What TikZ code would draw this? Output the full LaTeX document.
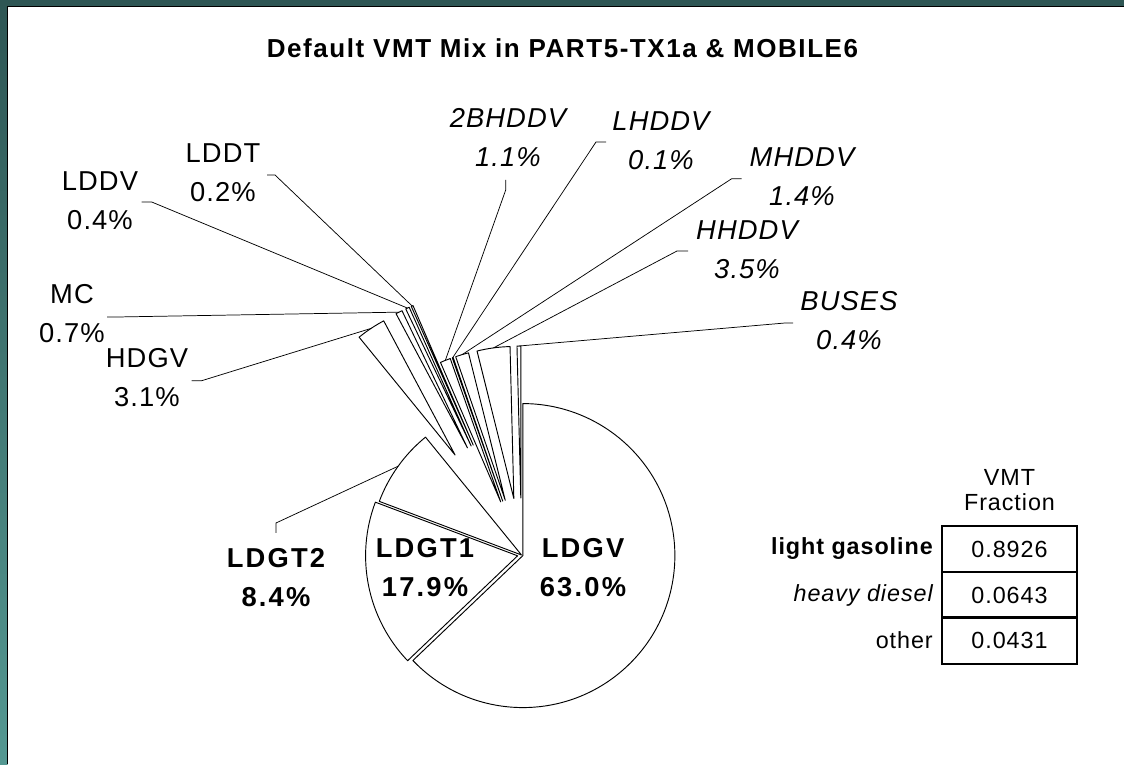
\documentclass[tikz,border=0pt]{standalone}
\usepackage{fontspec}
\setmainfont{Liberation Sans}
\newfontfamily\lblfont[LetterSpace=4]{Liberation Sans}
\newfontfamily\boldlblfont[LetterSpace=8]{Liberation Sans}
\newfontfamily\titlefont[LetterSpace=6]{Liberation Sans}
\usetikzlibrary{calc,positioning}
\definecolor{frametop}{RGB}{46,86,84}
\definecolor{framebot}{RGB}{84,152,146}

\begin{document}
\begin{tikzpicture}[x=0.75pt,y=0.75pt,
    slice/.style={draw,line width=0.7pt,fill=white,line join=round},
    leader/.style={draw,line width=0.55pt},
    lbl/.style={align=center,inner sep=0pt,font=\lblfont\fontsize{20.5}{29.25}\selectfont},
    cell/.style={draw,line width=1.5pt,minimum width=101.25pt,minimum height=34.5pt,
      inner sep=0pt,font=\lblfont\fontsize{17.5}{21}\selectfont},
    rowlbl/.style={inner sep=0pt,font=\lblfont\fontsize{17.5}{21}\selectfont},
  ]
  \useasboundingbox (0,0) rectangle (1124,764);
  % frame
  \shade[top color=frametop,bottom color=framebot] (0,0) rectangle (7.5,764);
  \fill[frametop] (0,757.5) rectangle (1124,764);
  \fill[white] (7.5,0) rectangle (1124,757.5);
  \draw[line width=1pt] (7.8,0) -- (7.8,757.2) -- (1124,757.2);

  \node[font=\titlefont\bfseries\fontsize{19.5}{23}\selectfont] (title) at (562.5,716)
    {Default VMT Mix in PART5-TX1a \& MOBILE6};

  % pie
  \coordinate (C) at (521.5,209);
  \draw[slice] ($(C)+(-23.17:1.5)$) -- ++(-136.347:152) arc[start angle=-136.347, end angle=90, radius=152] -- cycle;
  \draw[slice] ($(C)+(191.5:4)$) -- ++(159.342:152) arc[start angle=159.342, end angle=223.653, radius=152] -- cycle;
  \draw[slice] (C) -- ++(129.162:152) arc[start angle=129.162, end angle=159.342, radius=152] -- cycle;
  \draw[slice] ($(C)+(123.59:120)$) -- ++(118.024:152) arc[start angle=118.024, end angle=129.162, radius=152] -- cycle;
  \draw[slice] ($(C)+(116.77:120)$) -- ++(115.509:152) arc[start angle=115.509, end angle=118.024, radius=152] -- cycle;
  \draw[slice] ($(C)+(114.79:120)$) -- ++(114.072:152) arc[start angle=114.072, end angle=115.509, radius=152] -- cycle;
  \draw[slice] ($(C)+(113.71:120)$) -- ++(113.353:152) arc[start angle=113.353, end angle=114.072, radius=152] -- cycle;
  \draw[slice] ($(C)+(111.38:57)$) -- ++(109.401:152) arc[start angle=109.401, end angle=113.353, radius=152] -- cycle;
  \draw[slice] ($(C)+(109.22:57)$) -- ++(109.042:152) arc[start angle=109.042, end angle=109.401, radius=152] -- cycle;
  \draw[slice] ($(C)+(106.53:57)$) -- ++(104.012:152) arc[start angle=104.012, end angle=109.042, radius=152] -- cycle;
  \draw[slice] ($(C)+(97.72:57)$) -- ++(91.437:152) arc[start angle=91.437, end angle=104.012, radius=152] -- cycle;
  \draw[slice] ($(C)+(90.72:57)$) -- ++(90:152) arc[start angle=90, end angle=91.437, radius=152] -- cycle;

  % slice ends of the leaders
  \coordinate (e-ldgt2) at ($(C)+(144.25:152)$);
  \coordinate (e-hdgv) at ($(C)+(123.59:272)$);
  \coordinate (e-mc) at ($(C)+(116.77:272)$);
  \coordinate (e-lddv) at ($(C)+(114.79:272)$);
  \coordinate (e-lddt) at ($(C)+(113.71:272)$);
  \coordinate (e-2bhddv) at ($(C)+(111.38:209)$);
  \coordinate (e-lhddv) at ($(C)+(109.22:209)$);
  \coordinate (e-mhddv) at ($(C)+(106.53:209)$);
  \coordinate (e-hhddv) at ($(C)+(97.72:209)$);
  \coordinate (e-buses) at ($(C)+(90.72:209)$);

  % labels
  \node[lbl] (t-lddt) at (223,591.5) {LDDT\\0.2\%};
  \node[lbl] (t-lddv) at (100,563) {LDDV\\0.4\%};
  \node[lbl] (t-mc) at (72,450) {MC\\0.7\%};
  \node[lbl] (t-hdgv) at (147,386) {HDGV\\3.1\%};
  \node[lbl,font=\lblfont\itshape\fontsize{20.5}{29.25}\selectfont] (t-2bhddv) at (508,626) {2BHDDV\\1.1\%};
  \node[lbl,font=\lblfont\itshape\fontsize{20.5}{29.25}\selectfont] (t-lhddv) at (661,623) {LHDDV\\0.1\%};
  \node[lbl,font=\lblfont\itshape\fontsize{20.5}{29.25}\selectfont] (t-mhddv) at (802,587) {MHDDV\\1.4\%};
  \node[lbl,font=\lblfont\itshape\fontsize{20.5}{29.25}\selectfont] (t-hhddv) at (747,514.5) {HHDDV\\3.5\%};
  \node[lbl,font=\lblfont\itshape\fontsize{20.5}{29.25}\selectfont] (t-buses) at (849,443) {BUSES\\0.4\%};
  \node[lbl,font=\boldlblfont\bfseries\fontsize{20.5}{29.25}\selectfont] (t-ldgt2) at (276,186.5) {LDGT2\\8.4\%};
  \node[lbl,font=\boldlblfont\bfseries\fontsize{20.5}{29.25}\selectfont] (t-ldgt1) at (425,196) {LDGT1\\17.9\%};
  \node[lbl,font=\boldlblfont\bfseries\fontsize{20.5}{29.25}\selectfont] (t-ldgv) at (583,196) {LDGV\\63.0\%};

  % leader lines
  \coordinate (s-lddt) at (267,589);
  \coordinate (s-lddv) at (141.7,562);
  \coordinate (s-mc) at (107,447);
  \coordinate (s-hdgv) at (191.7,383.3);
  \coordinate (s-2bhddv) at (505.7,584);
  \coordinate (s-lhddv) at (606,622);
  \coordinate (s-mhddv) at (741.7,585.3);
  \coordinate (s-hhddv) at (688,513);
  \coordinate (s-buses) at (793,441);
  \coordinate (s-ldgt2) at (276,231);
  \draw[leader] (s-lddt) -- ++(8,0) -- (e-lddt);
  \draw[leader] (s-lddv) -- ++(10,0) -- (e-lddv);
  \draw[leader] (s-mc) -- ++(10,0) -- (e-mc);
  \draw[leader] (s-hdgv) -- ++(10,0) -- (e-hdgv);
  \draw[leader] (s-2bhddv) -- ++(0,-10) -- (e-2bhddv);
  \draw[leader] (s-lhddv) -- ++(-10,0) -- (e-lhddv);
  \draw[leader] (s-mhddv) -- ++(-10,0) -- (e-mhddv);
  \draw[leader] (s-hhddv) -- ++(-11,0) -- (e-hhddv);
  \draw[leader] (s-buses) -- ++(-8,0) -- (e-buses);
  \draw[leader] (s-ldgt2) -- ++(0,10) -- (e-ldgt2);

  % table
  \node[rowlbl,align=center] (hdr) at (1009.5,274) {VMT\\[-2pt]Fraction};
  \node[cell] (v1) at (1009.5,215) {0.8926};
  \node[cell] (v2) at (1009.5,169) {0.0643};
  \node[cell] (v3) at (1009.5,123.5) {0.0431};
  \node[rowlbl,font=\lblfont\bfseries\fontsize{17.5}{21}\selectfont,left=6pt of v1] (r1) {light gasoline};
  \node[rowlbl,font=\lblfont\itshape\fontsize{17.5}{21}\selectfont,left=6pt of v2] (r2) {heavy diesel};
  \node[rowlbl,left=6pt of v3] (r3) {other};
\end{tikzpicture}
\end{document}
